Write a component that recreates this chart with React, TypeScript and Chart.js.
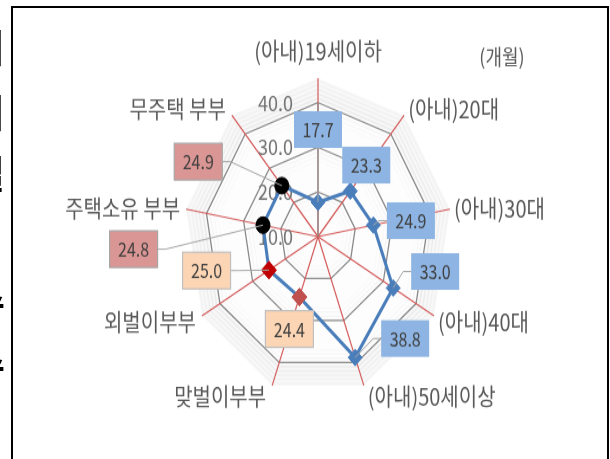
import React, { useEffect, useRef } from 'react';
import { Chart, registerables } from 'chart.js';

Chart.register(...registerables);

// ---------- data ----------
const categories = [
  '(아내)19세이하',
  '(아내)20대',
  '(아내)30대',
  '(아내)40대',
  '(아내)50세이상',
  '맞벌이부부',
  '외벌이부부',
  '주택소유 부부',
  '무주택 부부',
];
const values = [17.7, 23.3, 24.9, 33.0, 38.8, 24.4, 25.0, 24.8, 24.9];
const tickValues = [10, 20, 30, 40];
const axisMin = 10;
const axisMax = 45.5;
const unitLabel = '(개월)';

// ---------- styles / layout ----------
const STRETCH = 1.183; // the reference is vertically stretched
const CW = 610;
const CH = 390;
const FONT = '"Noto Sans CJK KR", "Noto Sans", sans-serif';

const markerStyles = ['rectRot', 'rectRot', 'rectRot', 'rectRot', 'rectRot', 'rectRot', 'rectRot', 'circle', 'circle'];
const markerColors = ['#4a7ebb', '#4a7ebb', '#4a7ebb', '#4a7ebb', '#4a7ebb', '#c0504d', '#c00000', '#000000', '#000000'];
const markerSizes = [7, 7, 7, 7, 7, 7.5, 7.5, 7, 7];
const boxFills = ['#8db4e2', '#8db4e2', '#8db4e2', '#8db4e2', '#8db4e2', '#fcd5b4', '#fcd5b4', '#da9694', '#da9694'];
const boxBorders = ['', '', '', '', '', '#bfbfbf', '#bfbfbf', '#a6a6a6', '#a6a6a6'];
// label box centre offset from its point, canvas px
const boxOffsets: [number, number][] = [
  [0, -61.4],
  [16, -22],
  [37.5, -3.7],
  [42, -13.9],
  [50, -16],
  [-10, 27],
  [-62.4, 0.4],
  [-129.4, 20.3],
  [-83.6, -20.3],
];
const BOX_W = 48;
const BOX_H = 31;

const radarDecor = {
  id: 'radarDecor',
  beforeDraw(chart: any) {
    const sc = chart.scales.r;
    const ctx = chart.ctx;
    const n = categories.length;
    const poly = (dist: number) => {
      ctx.beginPath();
      for (let i = 0; i < n; i++) {
        const p = sc.getPointPosition(i, dist);
        if (i === 0) ctx.moveTo(p.x, p.y);
        else ctx.lineTo(p.x, p.y);
      }
      ctx.closePath();
    };
    ctx.save();
    const outer = tickValues[tickValues.length - 1];
    poly(sc.drawingArea);
    ctx.fillStyle = '#f8f8f8';
    ctx.fill();
    // soft glow bands outside the outer ring
    for (let k = 1; k <= 5; k++) {
      poly(sc.getDistanceFromCenterForValue(outer + k));
      ctx.strokeStyle = `rgba(0,0,0,${0.06 - k * 0.008})`;
      ctx.lineWidth = 1.5;
      ctx.stroke();
    }
    poly(sc.getDistanceFromCenterForValue(outer));
    ctx.fillStyle = '#fdfdfd';
    ctx.fill();
    // faint glow bands inside
    tickValues.slice(1).forEach((v) => {
      for (let k = 1; k <= 3; k++) {
        poly(sc.getDistanceFromCenterForValue(v - k));
        ctx.strokeStyle = `rgba(0,0,0,${0.035 - k * 0.008})`;
        ctx.lineWidth = 1.5;
        ctx.stroke();
      }
    });
    ctx.restore();
  },
  beforeDatasetsDraw(chart: any) {
    const sc = chart.scales.r;
    const ctx = chart.ctx;
    ctx.save();
    // value axis line (gray) on the first spoke
    const top = sc.getPointPosition(0, sc.getDistanceFromCenterForValue(tickValues[tickValues.length - 1]));
    ctx.strokeStyle = '#8a8a8a';
    ctx.lineWidth = 1.3;
    ctx.beginPath();
    ctx.moveTo(sc.xCenter, sc.yCenter);
    ctx.lineTo(top.x, top.y);
    ctx.stroke();
    // tick labels
    ctx.font = `18px ${FONT}`;
    ctx.fillStyle = '#737373';
    ctx.textAlign = 'right';
    ctx.textBaseline = 'middle';
    tickValues.forEach((v) => {
      const d = sc.getDistanceFromCenterForValue(v);
      ctx.fillText(v.toFixed(1), sc.xCenter - 25, sc.yCenter - d);
    });
    ctx.restore();
  },
  afterDatasetsDraw(chart: any) {
    const meta = chart.getDatasetMeta(0);
    const ctx = chart.ctx;
    ctx.save();
    values.forEach((v, i) => {
      const pt = meta.data[i];
      const cx = pt.x + boxOffsets[i][0];
      const cy = pt.y + boxOffsets[i][1];
      const l = cx - BOX_W / 2, r = cx + BOX_W / 2, t = cy - BOX_H / 2, b = cy + BOX_H / 2;
      const nx = Math.max(l, Math.min(pt.x, r));
      const ny = Math.max(t, Math.min(pt.y, b));
      const dist = Math.hypot(pt.x - nx, pt.y - ny);
      if (dist > 12) {
        ctx.strokeStyle = '#a6a6a6';
        ctx.lineWidth = 1;
        ctx.beginPath();
        ctx.moveTo(pt.x, pt.y);
        if (l > pt.x + 2) {
          ctx.lineTo(l - 8, cy);
          ctx.lineTo(l, cy);
        } else if (r < pt.x - 2) {
          ctx.lineTo(r + 8, cy);
          ctx.lineTo(r, cy);
        } else if (b < pt.y) {
          ctx.lineTo(cx, b);
        } else {
          ctx.lineTo(cx, t);
        }
        ctx.stroke();
      }
      ctx.fillStyle = boxFills[i];
      ctx.fillRect(l, t, BOX_W, BOX_H);
      if (boxBorders[i]) {
        ctx.strokeStyle = boxBorders[i];
        ctx.lineWidth = 1.2;
        ctx.strokeRect(l, t, BOX_W, BOX_H);
      }
      ctx.fillStyle = '#404040';
      ctx.font = `16px ${FONT}`;
      ctx.textAlign = 'center';
      ctx.textBaseline = 'middle';
      ctx.fillText(v.toFixed(1), cx, cy + 0.5);
    });
    ctx.restore();
  },
  afterDraw(chart: any) {
    const sc = chart.scales.r;
    const ctx = chart.ctx;
    const n = categories.length;
    ctx.save();
    ctx.font = `20px ${FONT}`;
    ctx.fillStyle = '#595959';
    ctx.textBaseline = 'middle';
    categories.forEach((c, i) => {
      const ang = (i / n) * Math.PI * 2;
      const end = sc.getPointPosition(i, sc.drawingArea);
      let x = end.x;
      let y = end.y;
      if (i === 0) {
        ctx.textAlign = 'center';
        y -= 23;
      } else {
        const side = Math.sin(ang) > 0 ? 1 : -1;
        ctx.textAlign = side > 0 ? 'left' : 'right';
        x += side > 0 ? 4 : -6;
        y += -Math.cos(ang) * 8 + 1.5;
      }
      ctx.fillText(c, x, y);
    });
    ctx.font = `18px ${FONT}`;
    ctx.textAlign = 'center';
    ctx.fillText(unitLabel, 502, 48);
    ctx.restore();
  },
};

function RadarChart() {
  const ref = useRef<HTMLCanvasElement | null>(null);
  useEffect(() => {
    if (!ref.current) return;
    const chart = new Chart(ref.current, {
      type: 'radar',
      data: {
        labels: categories,
        datasets: [
          {
            data: values,
            borderColor: '#4a7ebb',
            borderWidth: 3,
            fill: false,
            tension: 0,
            pointStyle: markerStyles as any,
            pointRadius: markerSizes,
            pointBackgroundColor: markerColors,
            pointBorderColor: markerColors,
            pointBorderWidth: 1,
          },
        ],
      },
      options: {
        responsive: false,
        animation: false,
        devicePixelRatio: 1,
        layout: { padding: { left: 184, right: CW - 184 - 268, top: 66, bottom: CH - 66 - 268 } },
        plugins: { legend: { display: false }, tooltip: { enabled: false } },
        scales: {
          r: {
            min: axisMin,
            max: axisMax,
            startAngle: 0,
            afterBuildTicks: (scale: any) => {
              scale.ticks = tickValues.map((v) => ({ value: v }));
            },
            ticks: { display: false },
            grid: { color: '#8a8a8a', lineWidth: 1.3 },
            angleLines: { color: '#d45a5a', lineWidth: 1.2 },
            pointLabels: { display: false },
          },
        },
      },
      plugins: [radarDecor],
    } as any);
    return () => chart.destroy();
  }, []);
  return (
    <canvas
      ref={ref}
      width={CW}
      height={CH}
      style={{
        position: 'absolute',
        left: 0,
        top: 0,
        width: CW + 'px',
        height: CH + 'px',
        transform: `scaleY(${STRETCH})`,
        transformOrigin: '0 0',
      }}
    />
  );
}

const edgeChars: { ch: string; top: number }[] = [
  { ch: '이', top: 26 },
  { ch: '이', top: 91 },
  { ch: '일', top: 152 },
  { ch: '수', top: 280 },
  { ch: '수', top: 343 },
];

export default function App() {
  return (
    <div
      style={{
        position: 'fixed',
        left: 0,
        top: 0,
        width: 610,
        height: 459,
        overflow: 'hidden',
        background: '#fff',
      }}
    >
      <RadarChart />
      <div
        style={{
          position: 'absolute',
          left: 11,
          top: 6,
          width: 598,
          height: 470,
          border: '2px solid #000',
          boxSizing: 'border-box',
          pointerEvents: 'none',
        }}
      />
      {edgeChars.map((e, i) => (
        <div
          key={i}
          style={{
            position: 'absolute',
            left: -45,
            top: e.top,
            width: 50,
            textAlign: 'right',
            fontFamily: FONT,
            fontWeight: 700,
            fontSize: 38,
            lineHeight: '40px',
            color: '#000',
          }}
        >
          {e.ch}
        </div>
      ))}
    </div>
  );
}
